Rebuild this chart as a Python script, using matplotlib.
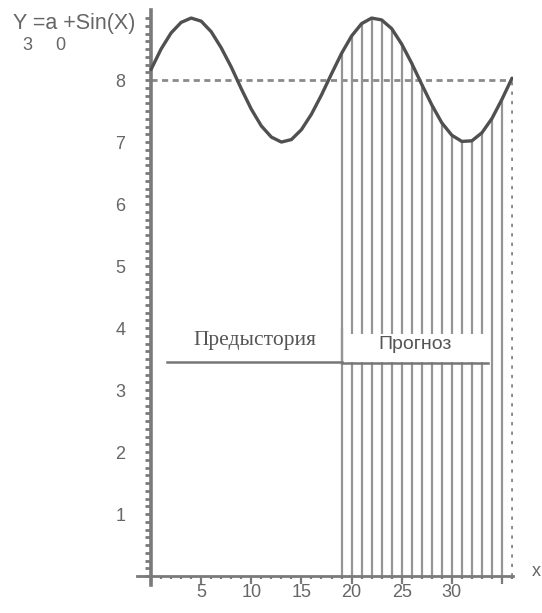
import matplotlib
matplotlib.use("Agg")
import matplotlib.pyplot as plt
from matplotlib.patches import Rectangle

# ---- data ----
x_vals = list(range(0, 37))
y_vals = [8.17, 8.50, 8.76, 8.93, 9.00, 8.95, 8.78, 8.52, 8.21, 7.86,
          7.53, 7.26, 7.08, 7.00, 7.04, 7.20, 7.45, 7.76, 8.10, 8.43,
          8.71, 8.91, 9.00, 8.97, 8.83, 8.58, 8.27, 7.93, 7.60, 7.31,
          7.11, 7.01, 7.02, 7.15, 7.38, 7.69, 8.03]
forecast_start = 19
forecast_end = 35
base_level = 8
x_end = 36
y_tick_vals = [1, 2, 3, 4, 5, 6, 7, 8]
x_tick_vals = [0, 5, 10, 15, 20, 25, 30, 35]
x_tick_labels = ["", "5", "10", "15", "20", "25", "30", ""]
label_history = "Предыстория"
label_forecast = "Прогноз"

axis_col = "#7a7a7a"
text_col = "#666666"

fig = plt.figure(figsize=(5.42, 6.13), dpi=100)
ax = fig.add_axes([137/542, 1-585/613, (513-137)/542, (585-10)/613])
ax.set_xlim(-1.4, 36.1)
ax.set_ylim(-0.145, 9.13)

for s in ["top", "right"]:
    ax.spines[s].set_visible(False)
ax.spines["left"].set_position(("data", 0))
ax.spines["bottom"].set_position(("data", 0))
ax.spines["left"].set_color(axis_col)
ax.spines["left"].set_linewidth(2.6)
ax.spines["bottom"].set_color(axis_col)
ax.spines["bottom"].set_linewidth(2.0)

# stems in forecast region
stem_x = [x for x in x_vals if forecast_start <= x <= forecast_end]
stem_y = [y_vals[x_vals.index(x)] for x in stem_x]
ax.vlines(stem_x, 0, stem_y, colors="#959595", linewidth=1.6, zorder=2)

# white gap behind forecast label
ax.add_patch(Rectangle((forecast_start + 0.25, 3.45), 14.3, 0.45,
                       facecolor="white", edgecolor="none", zorder=3))
ax.vlines([forecast_start], 3.4, 4.0, colors="#959595", linewidth=1.6, zorder=4)

# dashed base level and dotted end marker
ax.plot([0, x_end], [base_level, base_level], color="#8a8a8a", lw=2.0,
        linestyle=(0, (2.2, 1.6)), zorder=1)
ax.plot([x_end, x_end], [0, base_level], color="#8a8a8a", lw=2.0,
        linestyle=(0, (1.2, 2.2)), zorder=1)

# curve
ax.plot(x_vals, y_vals, color="#505050", lw=2.4, solid_capstyle="round", zorder=5)

# labels with underlines
ax.plot([1.6, forecast_start], [3.45, 3.45], color="#777777", lw=1.8, zorder=4)
ax.plot([forecast_start, 33.6], [3.44, 3.44], color="#777777", lw=1.8, zorder=4)
ax.text(10.4, 3.8, label_history, family="Liberation Serif", fontsize=15.5,
        color="#555555", ha="center", va="center", zorder=6)
ax.text(26.3, 3.73, label_forecast, family="Liberation Sans", fontsize=14,
        color="#555555", ha="center", va="center", zorder=6)

# ticks
ax.set_yticks(y_tick_vals)
ax.set_yticks([i / 8 for i in range(0, 73)], minor=True)
ax.set_xticks(x_tick_vals)
ax.set_xticklabels(x_tick_labels)
ax.set_xticks(list(range(0, 37)), minor=True)
ax.tick_params(axis="y", which="major", direction="out", length=4.5, width=2,
               color=axis_col, labelcolor=text_col, labelsize=13, pad=14)
ax.tick_params(axis="y", which="minor", direction="out", length=4.5, width=2,
               color=axis_col)
ax.tick_params(axis="x", which="major", direction="out", length=6, width=1.6,
               color=axis_col, labelcolor=text_col, labelsize=13, pad=0)
ax.tick_params(axis="x", which="minor", direction="out", length=2.5, width=1.6,
               color=axis_col)
for lab in ax.get_yticklabels() + ax.get_xticklabels():
    lab.set_family("Liberation Sans")

# title and axis name
fig.text(13/542, 1-24/613, "Y =a +Sin(X)", family="Liberation Sans",
         fontsize=15.5, color=text_col, ha="left", va="center")
fig.text(22/542, 1-46/613, "3", family="Liberation Sans", fontsize=13,
         color=text_col, ha="left", va="center")
fig.text(55/542, 1-46/613, "0", family="Liberation Sans", fontsize=13,
         color=text_col, ha="left", va="center")
fig.text(532/542, 1-572/613, "x", family="Liberation Sans", fontsize=13,
         color=text_col, ha="left", va="center")

fig.savefig("out.png", dpi=100, facecolor="white")
